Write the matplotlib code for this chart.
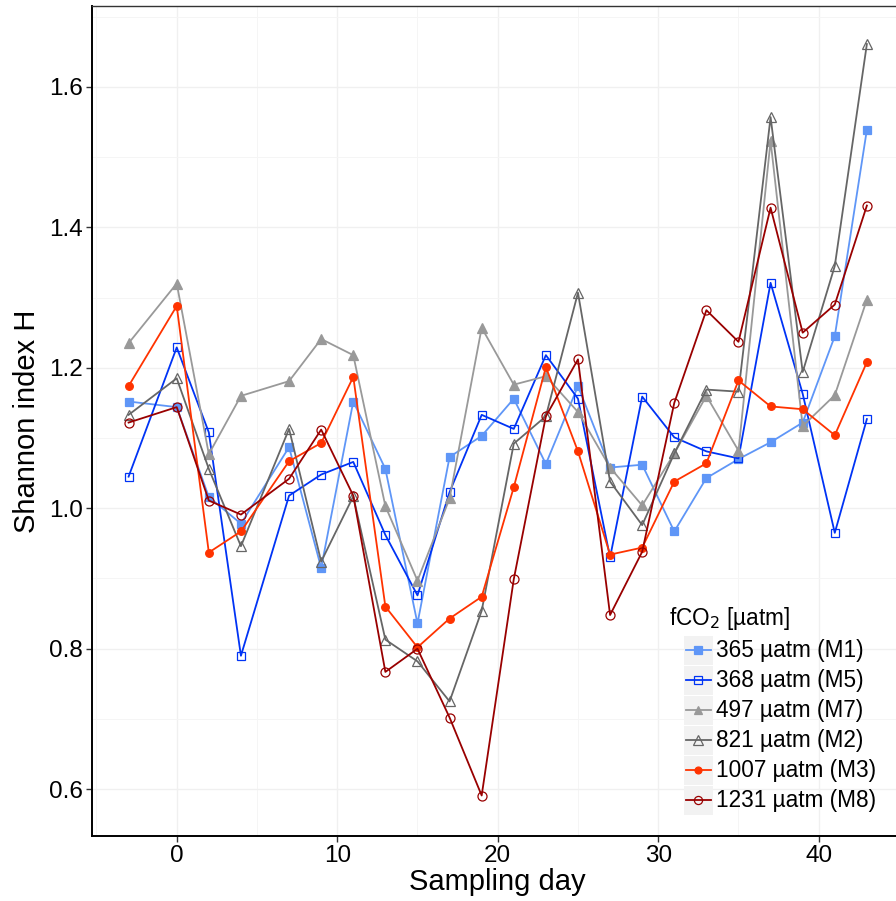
import matplotlib
matplotlib.use('Agg')
import matplotlib.pyplot as plt
from matplotlib.lines import Line2D
from matplotlib.patches import Rectangle
from matplotlib.ticker import MultipleLocator

plt.rcParams['font.family'] = ['Liberation Sans', 'DejaVu Sans']

W, H = 896, 901

days = [-3, 0, 2, 4, 7, 9, 11, 13, 15, 17, 19, 21, 23, 25, 27, 29, 31, 33, 35, 37, 39, 41, 43]

m1 = [1.152, 1.144, 1.016, 0.978, 1.087, 0.915, 1.152, 1.056, 0.836, 1.073, 1.103, 1.156,
      1.063, 1.174, 1.058, 1.062, 0.967, 1.043, 1.070, 1.094, 1.122, 1.245, 1.539]
m5 = [1.045, 1.229, 1.108, 0.790, 1.018, 1.048, 1.066, 0.962, 0.876, 1.023, 1.133, 1.113,
      1.218, 1.156, 0.930, 1.159, 1.101, 1.081, 1.071, 1.321, 1.163, 0.965, 1.127]
m7 = [1.235, 1.320, 1.077, 1.160, 1.181, 1.241, 1.218, 1.003, 0.897, 1.014, 1.257, 1.176,
      1.188, 1.137, 1.058, 1.004, 1.078, 1.160, 1.082, 1.523, 1.117, 1.161, 1.297]
m2 = [1.133, 1.185, 1.056, 0.946, 1.113, 0.924, 1.017, 0.813, 0.782, 0.725, 0.854, 1.092,
      1.131, 1.307, 1.038, 0.976, 1.078, 1.169, 1.166, 1.557, 1.194, 1.345, 1.661]
m3 = [1.174, 1.288, 0.937, 0.967, 1.067, 1.093, 1.187, 0.860, 0.802, 0.843, 0.874, 1.030,
      1.201, 1.081, 0.934, 0.944, 1.038, 1.064, 1.182, 1.145, 1.141, 1.104, 1.208]
m8 = [1.122, 1.144, 1.011, 0.991, 1.042, 1.112, 1.018, 0.767, 0.800, 0.702, 0.591, 0.899,
      1.131, 1.212, 0.848, 0.938, 1.150, 1.282, 1.237, 1.428, 1.250, 1.290, 1.431]

labels = ['365 µatm (M1)', '368 µatm (M5)', '497 µatm (M7)',
          '821 µatm (M2)', '1007 µatm (M3)', '1231 µatm (M8)']
series = [m1, m5, m7, m2, m3, m8]
colors = ['#5F96F7', '#0033F5', '#999999', '#666666', '#FF3300', '#990000']
markers = ['s', 's', '^', '^', 'o', 'o']
filled = [True, False, True, False, True, False]
msizes = [6.0, 6.0, 7.0, 7.5, 5.5, 6.5]


def fx(x):
    return x / W


def fy(y):
    return 1 - y / H


fig = plt.figure(figsize=(W / 100, H / 100), dpi=100)
ax = fig.add_axes([0.1023, 0.0721, 0.9064, 0.9209])

for vals, lab, c, mk, fl, ms in zip(series, labels, colors, markers, filled, msizes):
    ax.plot(days, vals, color=c, lw=1.3, marker=mk, markersize=ms,
            markerfacecolor=c if fl else 'none', markeredgecolor=c,
            markeredgewidth=0.9, label=lab)

ax.set_xlim(-5.3, 45.3)
ax.set_ylim(0.5333, 1.7147)
ax.xaxis.set_major_locator(MultipleLocator(10))
ax.xaxis.set_minor_locator(MultipleLocator(5))
ax.yaxis.set_minor_locator(MultipleLocator(0.1))
ax.set_yticks([0.6, 0.8, 1.0, 1.2, 1.4, 1.6])
ax.set_yticklabels(['0.6', '0.8', '1.0', '1.2', '1.4', '1.6'])

ax.grid(True, which='major', color='#F0F0F0', lw=1.0)
ax.grid(True, which='minor', color='#F5F5F5', lw=0.7)
ax.set_axisbelow(True)
ax.tick_params(which='minor', length=0)
ax.tick_params(which='major', length=4, width=1, color='#333333',
               labelsize=17.5, labelcolor='black', pad=2.5)

for side in ['left', 'bottom']:
    ax.spines[side].set_color('black')
    ax.spines[side].set_linewidth(1.4)
for side in ['top', 'right']:
    ax.spines[side].set_color('#333333')
    ax.spines[side].set_linewidth(1.0)

ax.set_xlabel('Sampling day', fontsize=21, labelpad=1)
fig.text(fx(27), fy(421), 'Shannon index H', rotation=90,
         ha='center', va='center', fontsize=21)

# legend drawn by hand so the grey key boxes match the ggplot look
fig.text(fx(669), fy(618), 'fCO$_2$ [µatm]', ha='left', va='center', fontsize=16.3)
for i, (lab, c, mk, fl, ms) in enumerate(zip(labels, colors, markers, filled, msizes)):
    yc = 650 + 30 * i
    fig.patches.append(Rectangle((fx(684), fy(yc + 14.5)), fx(28.5), 29 / H,
                                 transform=fig.transFigure, facecolor='#F2F2F2',
                                 edgecolor='none'))
    fig.lines.append(Line2D([fx(686), fx(710.5)], [fy(yc), fy(yc)],
                            transform=fig.transFigure, color=c, lw=1.3))
    fig.lines.append(Line2D([fx(698.2)], [fy(yc)], transform=fig.transFigure,
                            color=c, marker=mk, markersize=ms * 0.9,
                            markerfacecolor=c if fl else 'none', markeredgecolor=c,
                            markeredgewidth=0.9))
    fig.text(fx(716), fy(yc + 1), lab, ha='left', va='center', fontsize=16.3)

fig.savefig('out.png', dpi=100)
